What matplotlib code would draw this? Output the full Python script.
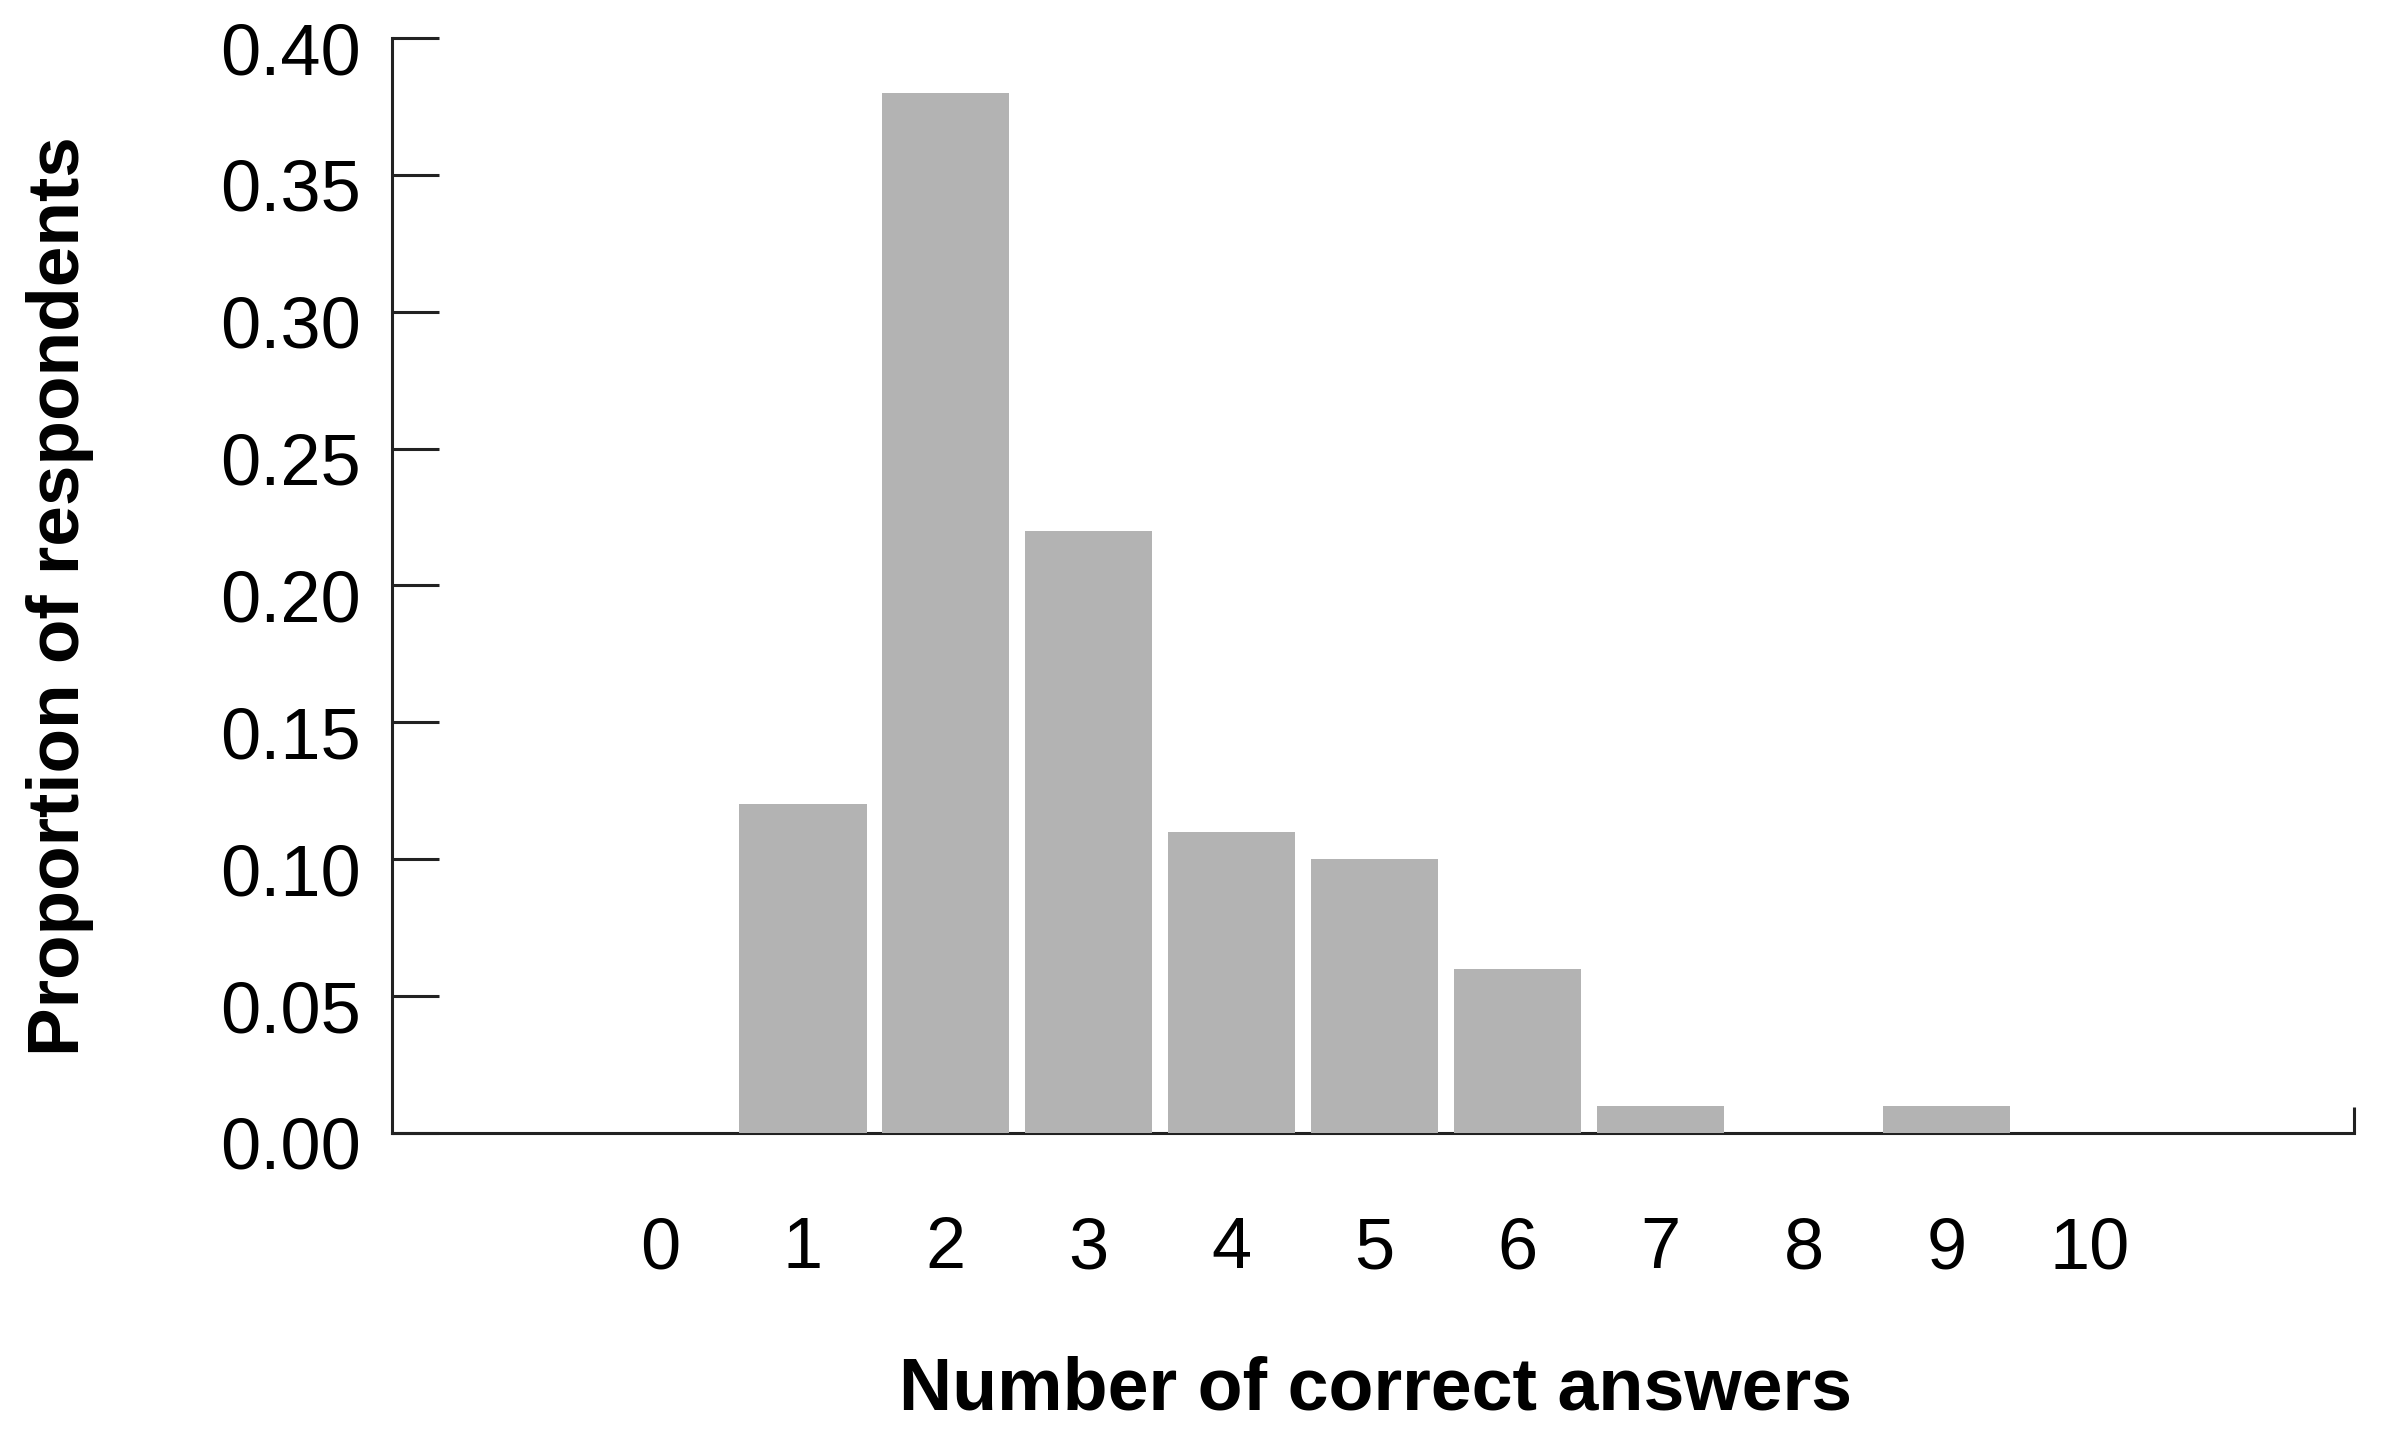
import matplotlib
matplotlib.use("Agg")
import matplotlib.pyplot as plt
from matplotlib.transforms import ScaledTranslation

# proportion of respondents by number of correct answers
answers = [0, 1, 2, 3, 4, 5, 6, 7, 8, 9, 10]
proportions = [0.0, 0.12, 0.38, 0.22, 0.11, 0.10, 0.06, 0.01, 0.0, 0.01, 0.0]
y_ticks = [0.00, 0.05, 0.10, 0.15, 0.20, 0.25, 0.30, 0.35, 0.40]

plt.rcParams['font.family'] = ['Liberation Sans', 'DejaVu Sans']

fig = plt.figure(figsize=(23.84, 14.35), dpi=100)
ax = fig.add_axes([0.1644, 0.2105, 0.8230, 0.7630])

ax.bar(answers, proportions, width=0.89, color='#b3b3b3', zorder=3)

ax.set_xlim(-1.875, 11.85)
ax.set_ylim(0, 0.40)

for side in ['top', 'right']:
    ax.spines[side].set_visible(False)
for side in ['left', 'bottom']:
    ax.spines[side].set_linewidth(2.2)
    ax.spines[side].set_color('#222222')

ax.set_yticks(y_ticks)
ax.set_yticklabels([f'{v:.2f}' for v in y_ticks])
ax.tick_params(axis='y', direction='in', length=34, width=2.2, color='#222222',
               labelsize=52, pad=22)
# labels sit a little below their ticks in the original
shift = ScaledTranslation(0, -0.10, fig.dpi_scale_trans)
for lab in ax.get_yticklabels():
    lab.set_transform(lab.get_transform() + shift)

ax.set_xticks(answers)
ax.set_xticklabels([str(a) for a in answers])
ax.tick_params(axis='x', which='major', length=0, labelsize=52, pad=60)

# little upward tick at the right end of the x axis
ax.set_xticks([11.85], minor=True)
ax.tick_params(axis='x', which='minor', direction='in', length=19, width=2.2,
               color='#222222')

ax.set_xlabel('Number of correct answers', fontsize=53, fontweight='bold')
ax.set_ylabel('Proportion of respondents', fontsize=52.5, fontweight='bold')
ax.xaxis.set_label_coords(0.5015, -0.203)
ax.yaxis.set_label_coords(-0.152, 0.49)

fig.savefig('out.png', dpi=100)
